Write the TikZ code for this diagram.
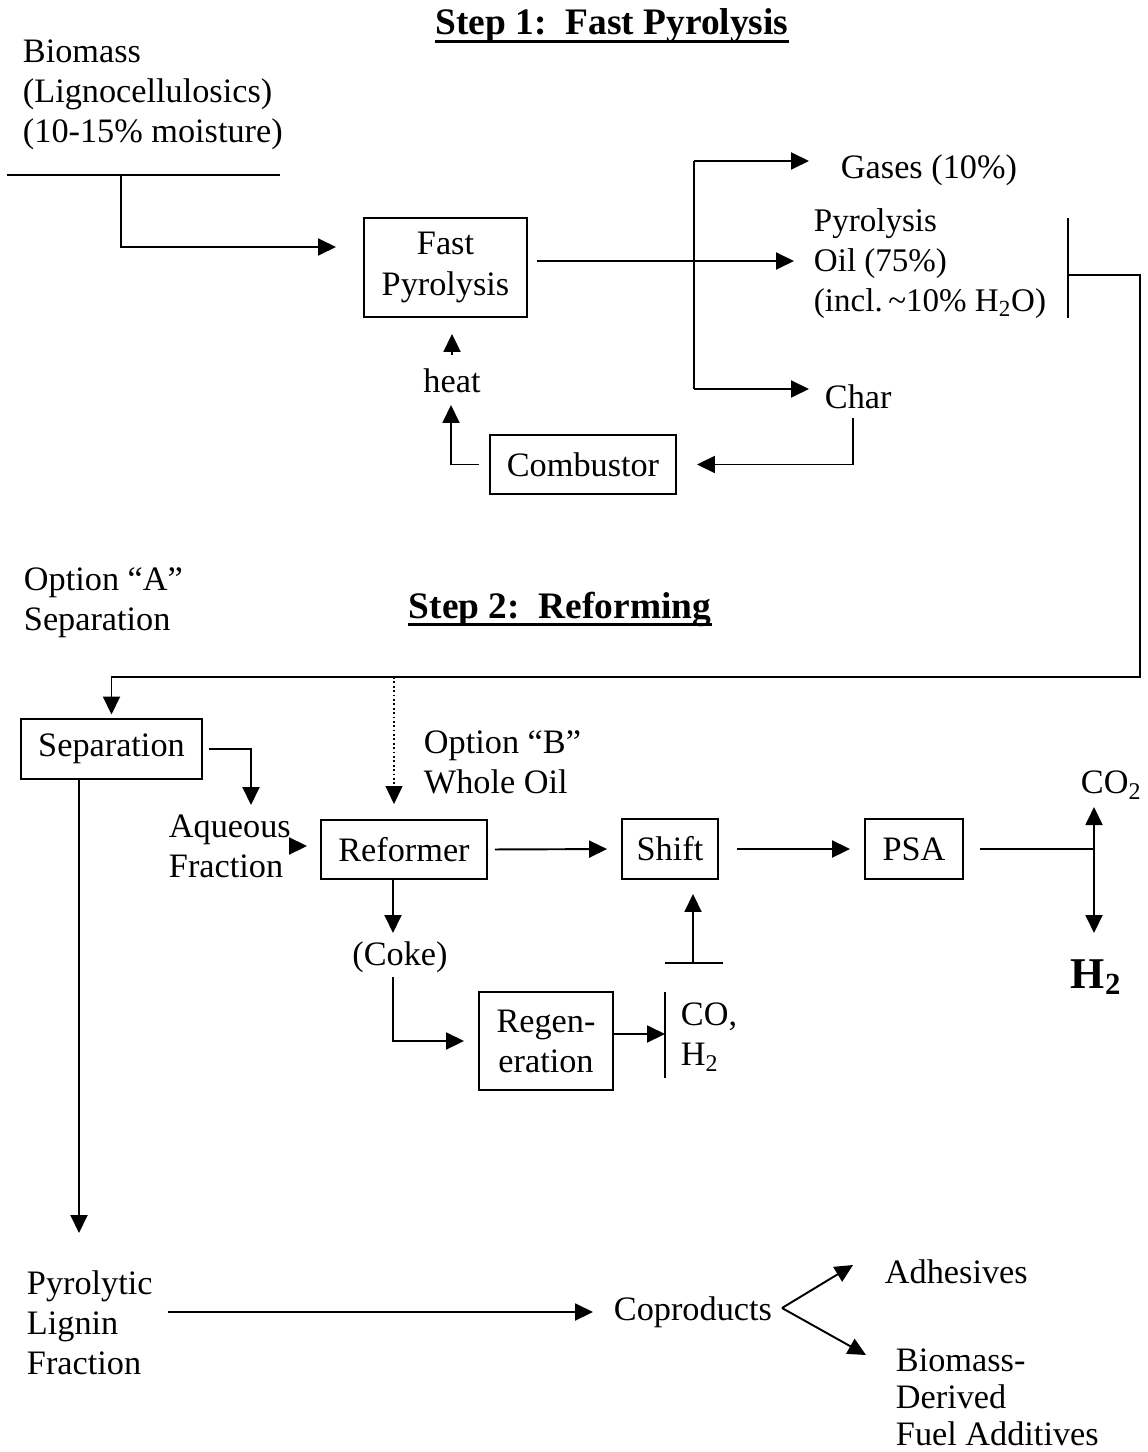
\documentclass[tikz,border=0pt]{standalone}
\usepackage{fontspec}
\setmainfont{Liberation Serif}
\usetikzlibrary{arrows.meta}

\begin{document}
\begin{tikzpicture}[-,x=0.02cm,y=-0.02cm,line width=1.1pt,font=\fontsize{19.5}{22.8}\selectfont]
\tikzstyle{unit}=[rectangle,draw=black,align=center,inner sep=0pt]
\tikzstyle{stream}=[align=left,inner sep=0pt,anchor=west]
\tikzstyle{heading}=[anchor=base,inner sep=0pt,font=\fontsize{21.3}{24}\selectfont\bfseries]
\tikzstyle{flow}=[-{Triangle[length=0.36cm,width=0.34cm]}]
\tikzstyle{rule}=[line width=1.7pt]
\useasboundingbox (0,0) rectangle (1147,1452);

% step 1
\node[heading] (step1) at (612,35) {Step 1:\ \ Fast Pyrolysis};
\node[stream] (biomass) at (22,95) {Biomass\\(Lignocellulosics)\\(10-15\% moisture)};
\node[unit,minimum width=3.26cm,minimum height=1.98cm] (fast) at (445.5,267.5) {Fast\\Pyrolysis};
\node[stream] (gases) at (840,170) {Gases (10\%)};
\node[stream,font=\fontsize{18.8}{22.8}\selectfont] (oil) at (813,264) {Pyrolysis\\Oil (75\%)\\(incl.\,\textasciitilde10\% H\textsubscript{2}O)};
\node[stream] (char) at (824,397) {Char};
\node (heat) [inner sep=0pt] at (452,381) {heat};
\node[unit,minimum width=3.72cm,minimum height=1.18cm] (comb) at (583,464.5) {Combustor};

% step 2
\node[stream] (opta) at (23,603) {Option “A”\\Separation};
\node[heading] (step2) at (560,618) {Step 2:\ \ Reforming};
\node[unit,minimum width=3.62cm,minimum height=1.2cm] (sep) at (111.5,749) {Separation};
\node[stream] (optb) at (423,762) {Option “B”\\Whole Oil};
\node[stream] (aq) at (168,846) {Aqueous\\Fraction};
\node[unit,minimum width=3.32cm,minimum height=1.18cm] (ref) at (404,849.5) {Reformer};
\node[unit,minimum width=1.92cm,minimum height=1.2cm] (shift) at (670,849) {Shift};
\node[unit,minimum width=1.96cm,minimum height=1.2cm] (psa) at (914,849) {PSA};
\node[stream] (co2) at (1080,785) {CO\textsubscript{2}};
\node[stream,font=\fontsize{25}{28}\selectfont\bfseries] (h2) at (1070,977) {H\textsubscript{2}};
\node (coke) [inner sep=0pt] at (400,957) {(Coke)};
\node[unit,minimum width=2.68cm,minimum height=1.96cm] (regen) at (546,1041) {Regen-\\eration};
\node[stream] (coh2) at (680,1037) {CO,\\H\textsubscript{2}};

% coproducts
\node[stream] (lignin) at (26,1323) {Pyrolytic\\Lignin\\Fraction};
\node[stream] (copro) at (613,1312) {Coproducts};
\node[stream] (adh) at (884,1272) {Adhesives};
\node[stream,font=\fontsize{19.5}{21}\selectfont] (fuel) at (895,1397) {Biomass-\\Derived\\Fuel Additives};

% underlines of the headings
\draw[rule] ([yshift=-3.5pt]step1.base west) -- ([yshift=-3.5pt]step1.base east);
\draw[rule] ([yshift=-3.5pt]step2.base west) -- ([yshift=-3.5pt]step2.base east);

\coordinate (bml) at (7,175);
\coordinate (bmr) at (280,175);
\coordinate (bmj) at (121,175);
\coordinate (fastin) at (336,247);
\coordinate (oilin) at (794,261);
\coordinate (forkt) at (694,161);
\coordinate (forkb) at (694,389);
\coordinate (gasin) at (809,161);
\coordinate (charin) at (809,389);
\coordinate (charout) at (853,418);
\coordinate (heatin) at (451,405);
\coordinate (bart) at (1068,218);
\coordinate (barb) at (1068,318);
\coordinate (oilout) at (1068,275);
\coordinate (loop) at (1140,677);
\coordinate (optbtop) at (394,677);
\coordinate (aqin) at (251,805);
\coordinate (split) at (1094,849);
\coordinate (co2in) at (1094,807);
\coordinate (h2in) at (1094,933);
\coordinate (cokein) at (393,933);
\coordinate (cokeout) at (393,977);
\coordinate (cobar) at (665,1034);
\coordinate (cobart) at (665,992);
\coordinate (cobarb) at (665,1078);
\coordinate (shbl) at (665,963);
\coordinate (shbr) at (723,963);
\coordinate (shbm) at (693,963);
\coordinate (ligin) at (79,1233);
\coordinate (copj) at (782,1308);
\coordinate (adhin) at (853,1265);
\coordinate (addin) at (866,1355);

\path (bml) edge (bmr);
\draw[flow] (bmj) |- (fastin);
\draw[flow,shorten <=0.18cm] (fast.east |- oilin) -- (oilin);
\path (forkt) edge (forkb);
\draw[flow] (forkt) -- (gasin);
\draw[flow] (forkb) -- (charin);
\draw[flow,shorten >=0.4cm] (charout) |- (comb.east);
\draw[flow,shorten <=0.2cm] (comb.west) -| (heatin);
\draw[flow,shorten <=0.26cm,shorten >=0.32cm] (heat.north) -- (heat.north |- fast.south);

\path (bart) edge (barb);
\draw[flow,shorten >=2pt] (oilout) -| (loop) -| (sep.north);
\draw[flow,line width=0.6pt,dash pattern=on 1pt off 1.5pt,shorten >=0.3cm] (optbtop) -- (optbtop |- ref.north);
\draw[flow,shorten <=0.12cm] (sep.east) -| (aqin);
\draw[flow,shorten >=0.26cm] (aq.east) -- (aq.east -| ref.west);
\draw[flow,shorten <=0.14cm,shorten >=0.28cm] (ref.east) -- (shift.west);
\draw[flow,shorten <=0.36cm,shorten >=0.28cm] (shift.east) -- (psa.west);
\draw[shorten <=0.32cm] (psa.east) -- (split);
\draw[flow] (split) -- (co2in);
\draw[flow] (split) -- (h2in);

\draw[flow] (ref.south -| cokein) -- (cokein);
\draw[flow,shorten >=0.28cm] (cokeout) |- (regen.west);
\draw[flow] (regen.east |- cobar) -- (cobar);
\path (cobart) edge (cobarb);
\path (shbl) edge (shbr);
\draw[flow,shorten >=0.28cm] (shbm) -- (shbm |- shift.south);

\draw[flow] (sep.south -| ligin) -- (ligin);
\draw[flow,shorten <=0.28cm,shorten >=0.4cm] (lignin.east |- copro) -- (copro.west);
\draw[flow] (copj) -- (adhin);
\draw[flow] (copj) -- (addin);

\end{tikzpicture}
\end{document}
